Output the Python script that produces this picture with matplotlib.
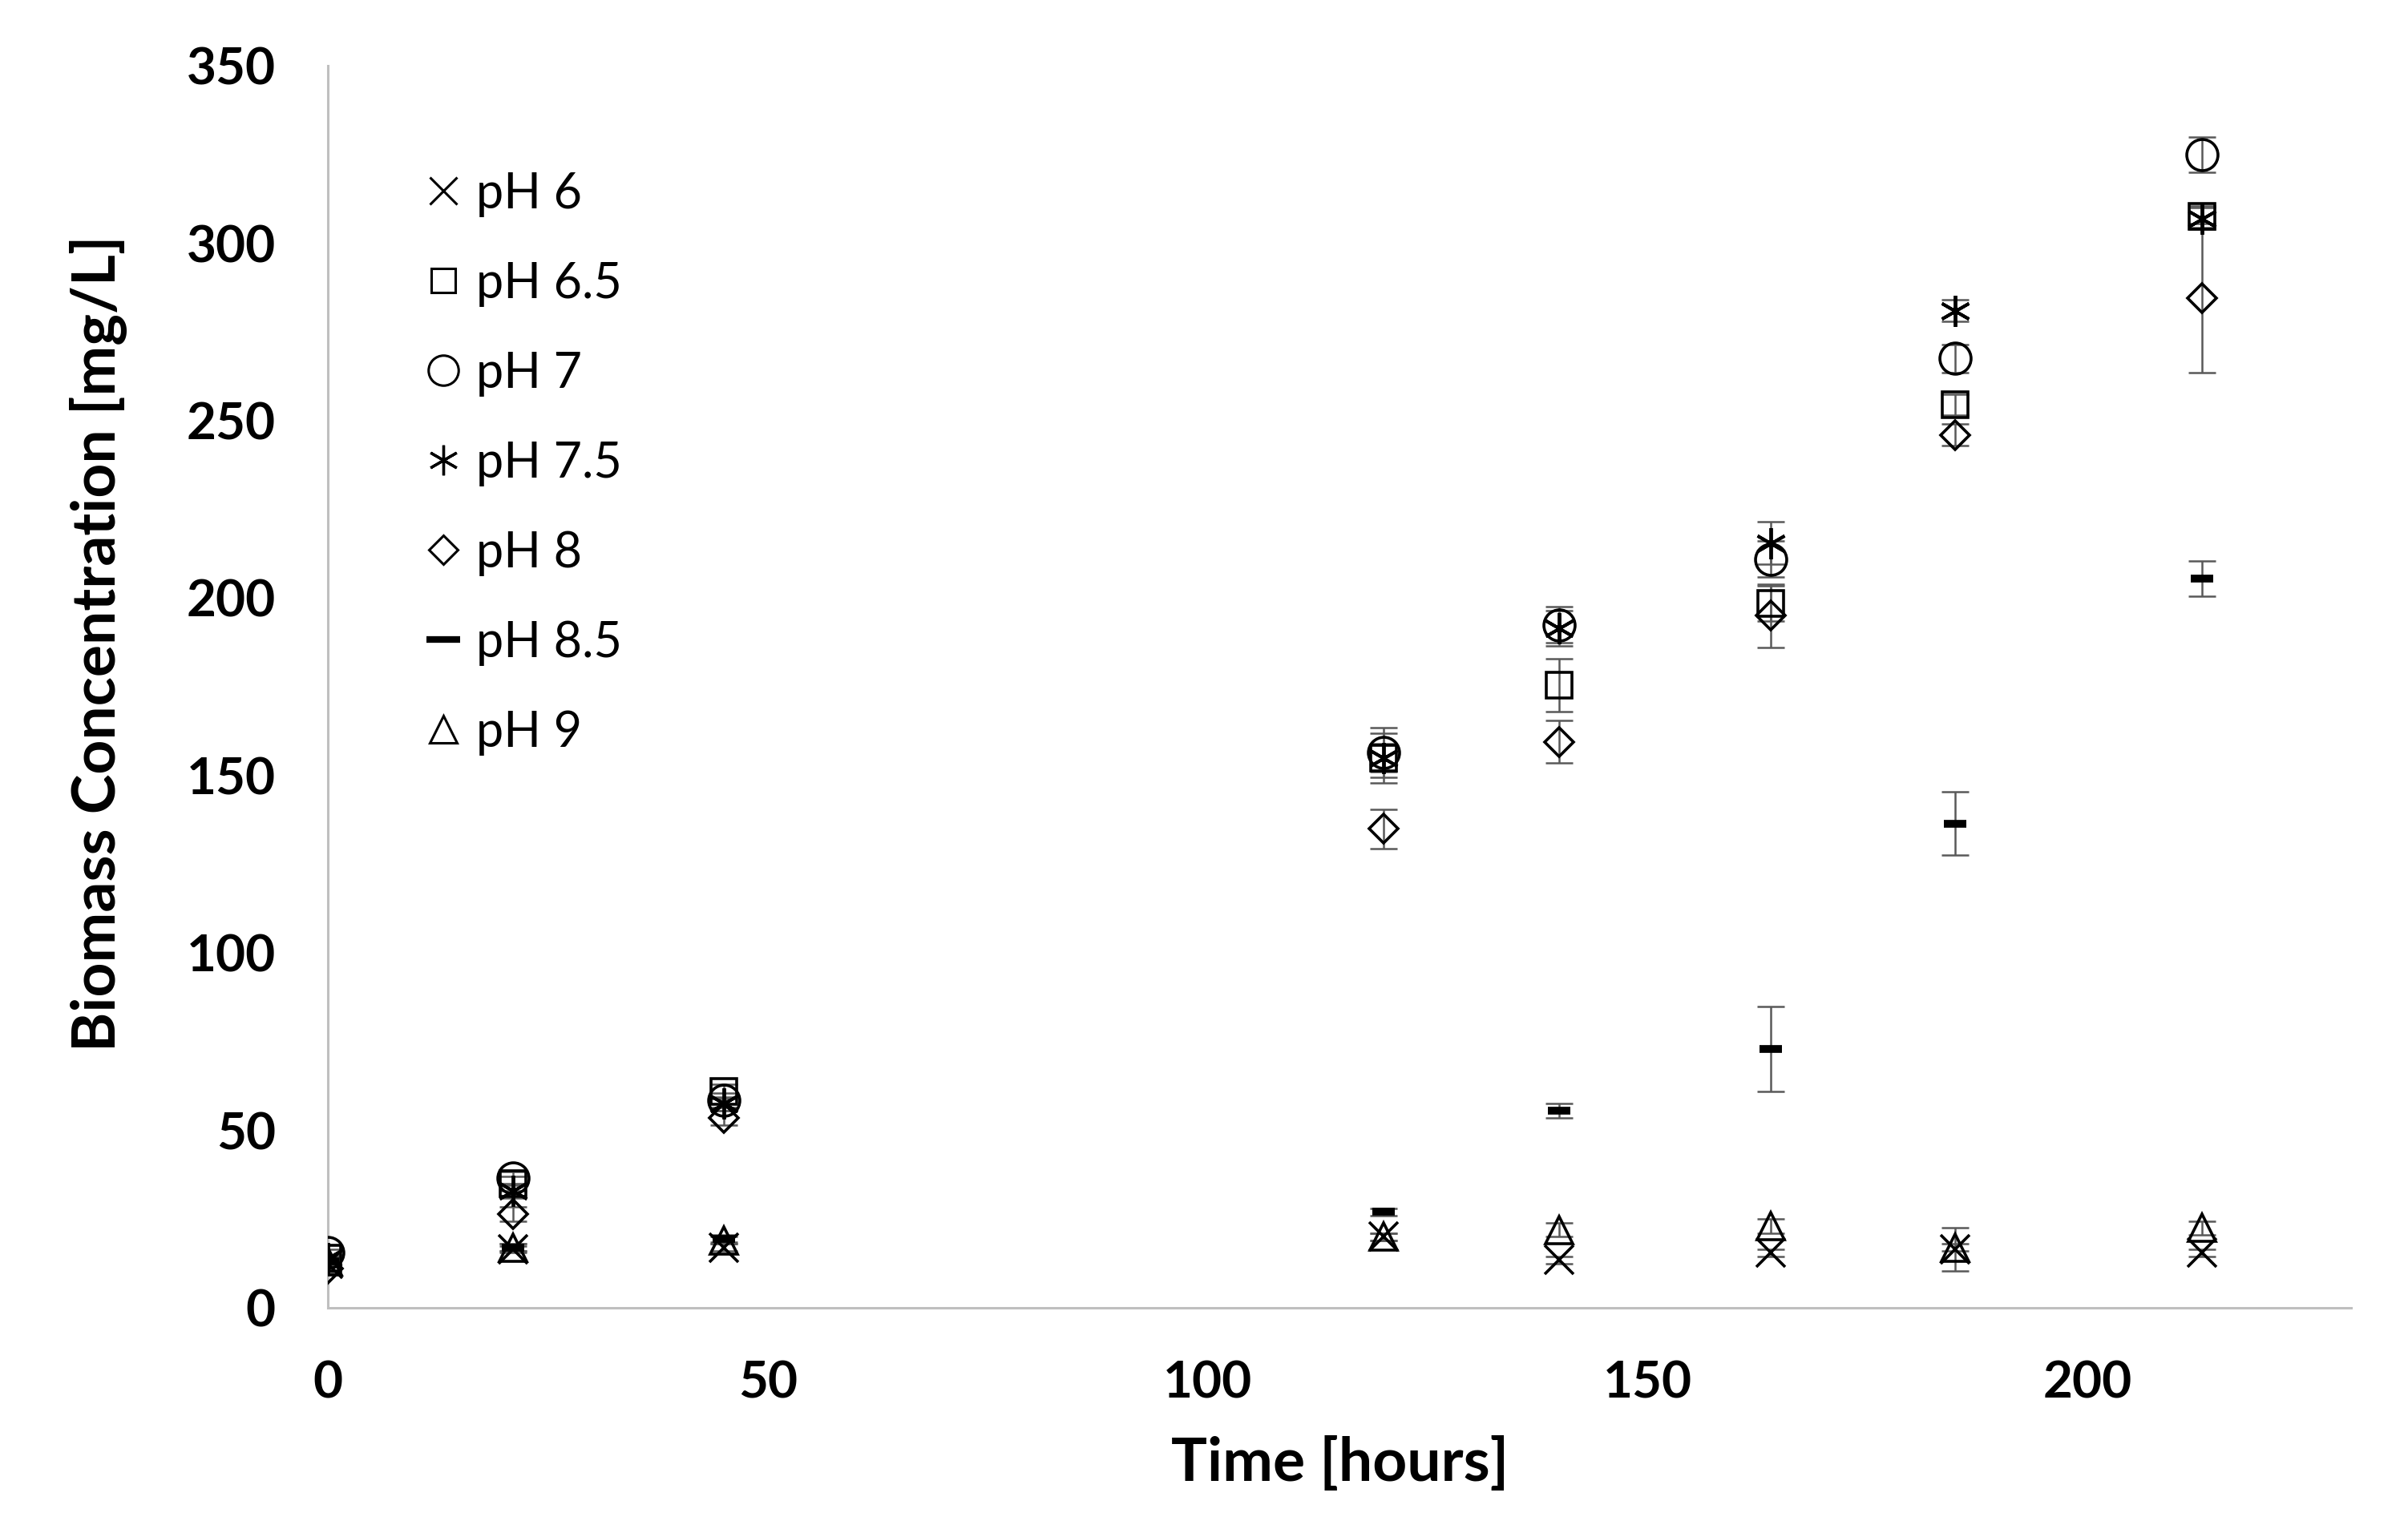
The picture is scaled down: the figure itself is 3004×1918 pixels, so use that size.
import matplotlib.pyplot as plt
from matplotlib.lines import Line2D

plt.rcParams['font.family'] = ['Lato', 'DejaVu Sans']

# sampling times [hours]
time_h = [0, 21, 45, 120, 140, 164, 185, 213]

# biomass concentration [mg/L] for each pH, with standard deviations
ph_labels = ['pH 6', 'pH 6.5', 'pH 7', 'pH 7.5', 'pH 8', 'pH 8.5', 'pH 9']

ph6 = [12.5, 16.5, 17, 20, 13.5, 15.5, 16.5, 15.5]
ph6_err = [1, 1, 1, 1, 1, 1, 6, 1]
ph65 = [14, 35, 61, 155, 175.5, 198.5, 254.5, 307.5]
ph65_err = [1, 2, 2, 7, 7.5, 5, 3, 3]
ph7 = [15.5, 36.5, 58.5, 156.5, 192.5, 211, 267.5, 325]
ph7_err = [1, 2, 2, 7, 5, 5, 4, 5]
ph75 = [14, 33, 57.5, 155, 191.5, 215.5, 281, 307]
ph75_err = [1, 2, 2, 4, 5, 6, 3, 3]
ph8 = [11, 26.5, 53.5, 135, 159.5, 195, 246, 284.5]
ph8_err = [1, 2, 2, 5.5, 6, 9, 3, 21]
ph85 = [13, 17, 19.5, 27, 55.5, 73, 136.5, 205.5]
ph85_err = [1, 1, 1, 1, 2, 12, 9, 5]
ph9 = [13, 17, 19, 20, 22, 23, 17, 22.5]
ph9_err = [1, 1, 1, 1, 2, 2, 1, 2]

series = [ph6, ph65, ph7, ph75, ph8, ph85, ph9]
errors = [ph6_err, ph65_err, ph7_err, ph75_err, ph8_err, ph85_err, ph9_err]

markers = ['x', 's', 'o', (6, 2, 0), 'D', '_', '^']
sizes = [26, 23, 28, 28, 18.5, 20, 25]
edge_w = [2.6, 2.6, 2.6, 2.8, 2.6, 7, 2.6]

fig = plt.figure(figsize=(30.04, 19.18), dpi=100)
ax = fig.add_axes([0.1362, 0.1491, 0.8402, 0.8081])

for vals, err, m, ms, mew in zip(series, errors, markers, sizes, edge_w):
    ax.errorbar(time_h, vals, yerr=err, fmt='none', ecolor='#595959',
                elinewidth=1.8, capsize=12, capthick=1.8, zorder=2)
    ax.plot(time_h, vals, linestyle='none', marker=m, markersize=ms,
            markeredgewidth=mew, markeredgecolor='black',
            markerfacecolor='none', zorder=3)

ax.set_xlim(0, 230)
ax.set_ylim(0, 350)
ax.set_xticks([0, 50, 100, 150, 200])
ax.set_yticks(range(0, 351, 50))

for side in ['top', 'right']:
    ax.spines[side].set_visible(False)
for side in ['left', 'bottom']:
    ax.spines[side].set_color('#bfbfbf')
    ax.spines[side].set_linewidth(2.2)

ax.tick_params(length=0, pad=47, labelsize=46)
for lab in ax.get_xticklabels() + ax.get_yticklabels():
    lab.set_fontweight('bold')

ax.set_xlabel('Time [hours]', fontsize=54, fontweight='bold')
ax.set_ylabel('Biomass Concentration [mg/L]', fontsize=54, fontweight='bold')
ax.xaxis.set_label_coords(0.5, -0.103)
ax.yaxis.set_label_coords(-0.099, 0.535)

# legend shows only the marker symbols
handles = []
leg_sizes = [25, 22, 27, 27, 18, 30, 25]
for m, ms, mew in zip(markers, leg_sizes, edge_w):
    handles.append(Line2D([], [], linestyle='none', marker=m, markersize=ms,
                          markeredgewidth=mew * 0.85, markeredgecolor='black',
                          markerfacecolor='none'))
ax.legend(handles, ph_labels, loc='upper left', bbox_to_anchor=(0.048, 0.915),
          frameon=False, fontsize=44, handlelength=0.75, handletextpad=0.3,
          labelspacing=0.9, borderpad=0, borderaxespad=0)

fig.savefig('out.png', dpi=100)
